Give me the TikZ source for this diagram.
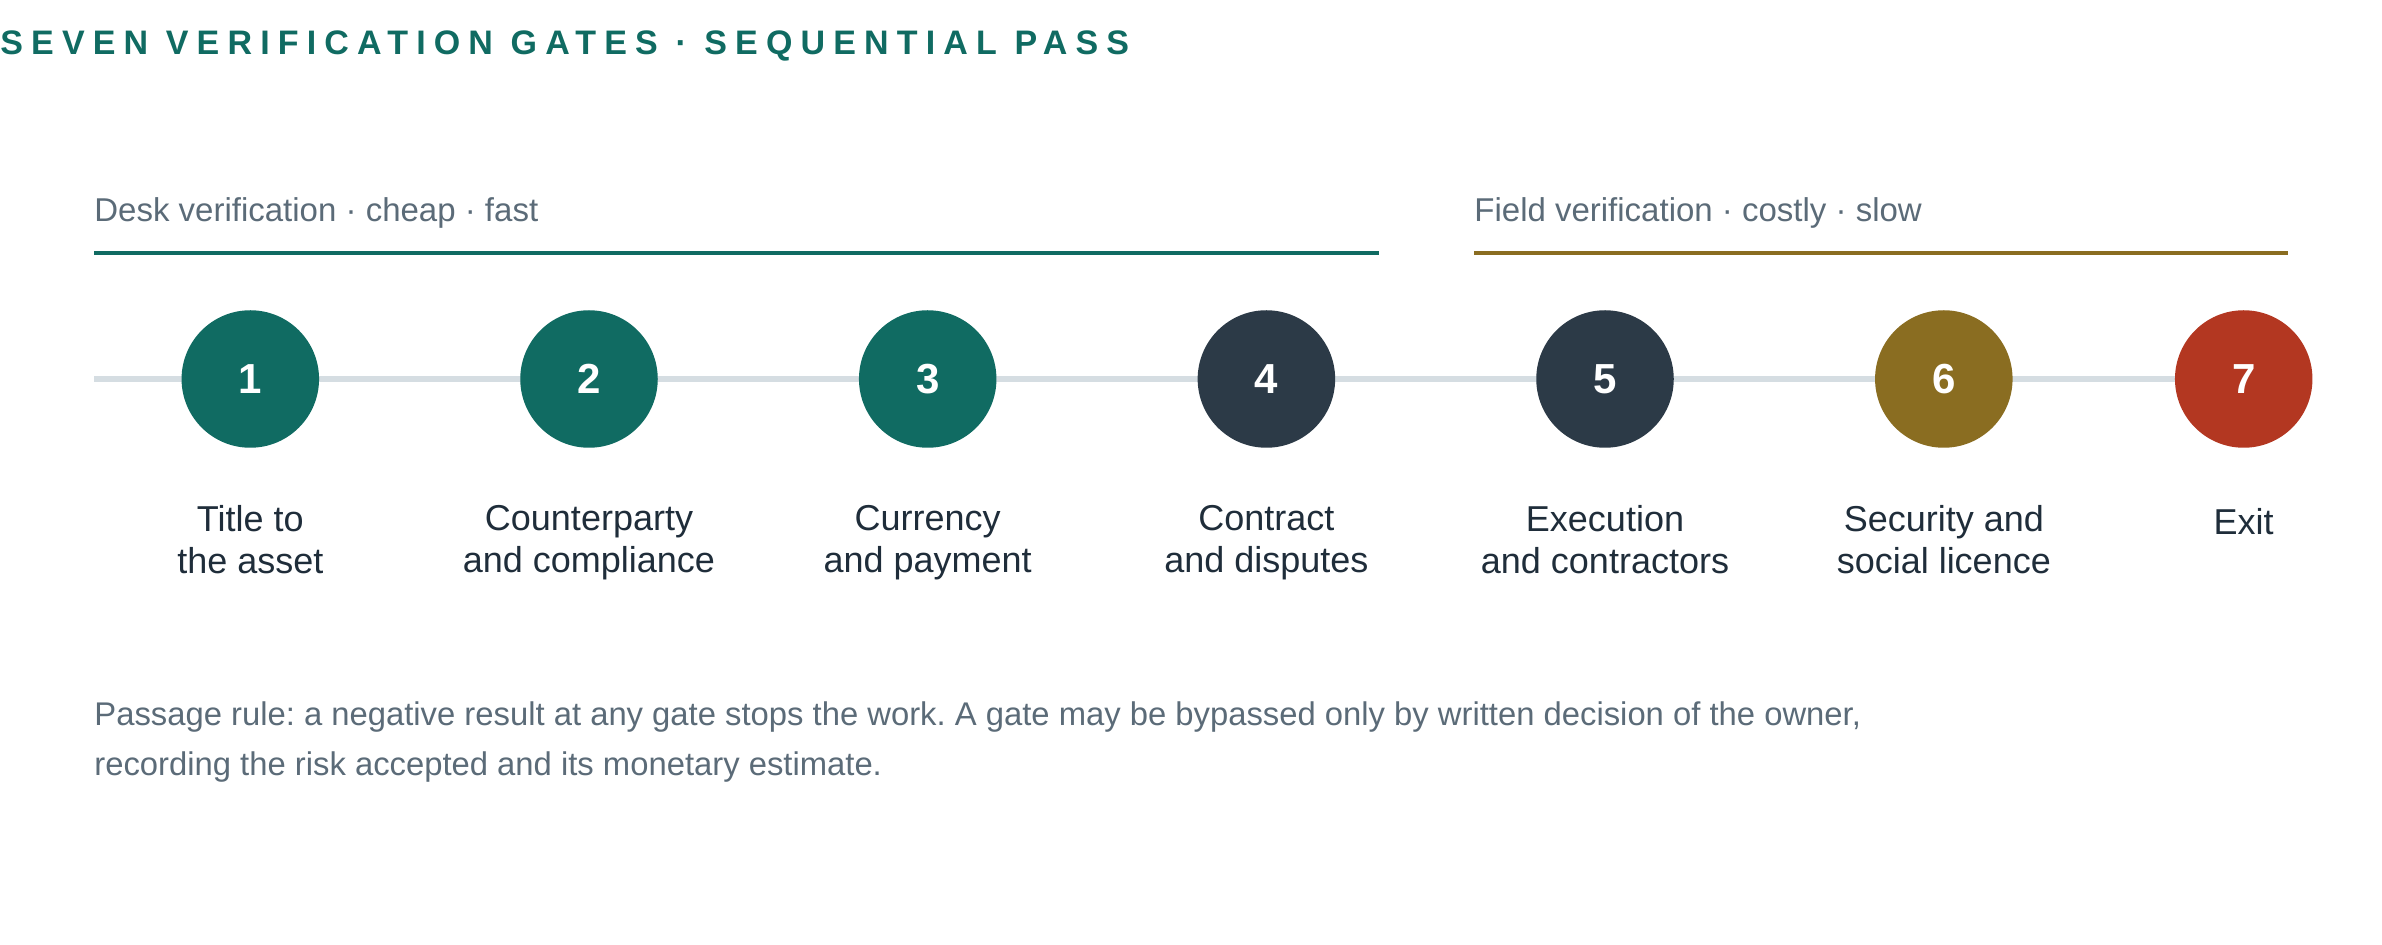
\documentclass[tikz,border=0pt]{standalone}
\usepackage{fontspec}
\setmainfont{Liberation Sans}
\newfontfamily\trackedfont[LetterSpace=24]{Liberation Sans}
\usetikzlibrary{backgrounds}
\frenchspacing

\definecolor{deskteal}{HTML}{106B62}
\definecolor{fieldgold}{HTML}{8A6D21}
\definecolor{slate}{HTML}{2C3A47}
\definecolor{exitred}{HTML}{B33721}
\definecolor{trackgray}{HTML}{D5DDE2}
\definecolor{mutedink}{HTML}{5B6B78}
\definecolor{labelink}{HTML}{1F2D3A}

\tikzset{gate/.style = {shape = circle, minimum size = 68.75pt, inner sep = 0pt, text = white, font = \fontsize{21}{21}\selectfont\bfseries}}
\tikzset{caption/.style = {align = center, anchor = north, inner sep = 0pt, text = labelink, font = \fontsize{18}{21}\selectfont, execute at begin node = \strut}}
\tikzset{heading/.style = {anchor = base west, inner sep = 0pt, text = mutedink, font = \fontsize{16.5}{19}\selectfont}}
\tikzset{band/.style = {line width = 2.25pt}}
\tikzset{track/.style = {line width = 3pt, draw = trackgray}}

\begin{document}
\begin{tikzpicture}[x = 0.5pt, y = -0.5pt]
	\useasboundingbox (0, 0) rectangle (2382, 945);

	\node[anchor = base west, inner sep = 0pt, text = deskteal, font = \fontsize{17}{20}\trackedfont\bfseries] (title) at (0, 55) {SEVEN VERIFICATION GATES · SEQUENTIAL PASS};

	% the two phases
	\node[heading] (desk) at (94, 222) {Desk verification · cheap · fast};
	\node[heading] (field) at (1474, 222) {Field verification · costly · slow};
	\coordinate (deskend) at (1379, 253);
	\coordinate (fieldend) at (2288, 253);
	\draw[band, deskteal] (desk.west |- deskend) -- (deskend);
	\draw[band, fieldgold] (field.west |- fieldend) -- (fieldend);

	% gates
	\node[gate, fill = deskteal] (a) at (250.3, 379) {1};
	\node[gate, fill = deskteal] (b) at (589, 379) {2};
	\node[gate, fill = deskteal] (c) at (927.7, 379) {3};
	\node[gate, fill = slate] (d) at (1266.4, 379) {4};
	\node[gate, fill = slate] (e) at (1605, 379) {5};
	\node[gate, fill = fieldgold] (f) at (1943.8, 379) {6};
	\node[gate, fill = exitred] (g) at (2243.7, 379) {7};

	\begin{scope}[on background layer]
		\coordinate (start) at (94, 379);
		\draw[track] (start) -- (g.center);
	\end{scope}

	% strut height is 29.4 units above the first baseline
	\node[caption] (la) at (a |- 0, 504.6) {Title to\\the asset};
	\node[caption] (lb) at (b |- 0, 504.6) {Counterparty\\and compliance};
	\node[caption] (lc) at (c |- 0, 504.6) {Currency\\and payment};
	\node[caption] (ld) at (d |- 0, 504.6) {Contract\\and disputes};
	\node[caption] (le) at (e |- 0, 504.6) {Execution\\and contractors};
	\node[caption] (lf) at (f |- 0, 504.6) {Security and\\social licence};
	\node[caption] (lg) at (g |- 0, 504.6) {Exit};

	% rule under the chain
	\node[heading, align = left, font = \fontsize{16.4}{25}\selectfont] (rule) at (94, 776) {Passage rule: a negative result at any gate stops the work. A gate may be bypassed only by written decision of the owner,\\recording the risk accepted and its monetary estimate.};
\end{tikzpicture}
\end{document}
